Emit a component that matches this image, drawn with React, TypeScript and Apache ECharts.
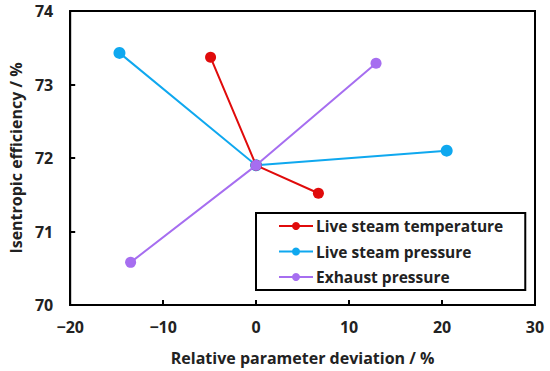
import React, { useEffect, useRef } from "react";
import * as echarts from "echarts";

const seriesNames = ["Live steam temperature", "Live steam pressure", "Exhaust pressure"];
const tempX = [-4.9, 0, 6.7];
const tempY = [73.37, 71.9, 71.52];
const pressX = [-14.7, 0, 20.5];
const pressY = [73.43, 71.9, 72.1];
const exhaustX = [-13.5, 0, 12.9];
const exhaustY = [70.58, 71.9, 73.29];
const colors = ["#e00b0b", "#0fa8ef", "#a66ef0"];

const FONT = "'Open Sans', sans-serif";

function pairs(xs: number[], ys: number[]) {
  return xs.map((x, i) => [x, ys[i]]);
}

export default function App() {
  const ref = useRef<HTMLDivElement>(null);
  useEffect(() => {
    const chart = echarts.init(ref.current!, null, { renderer: "svg" });
    const data = [pairs(tempX, tempY), pairs(pressX, pressY), pairs(exhaustX, exhaustY)];
    const textBase = { fontFamily: FONT, fontWeight: "bold" as const, color: "#222" };
    chart.setOption({
      animation: false,
      backgroundColor: "#fff",
      grid: { left: 69, right: 15, top: 11, bottom: 66, show: true, borderColor: "#000", borderWidth: 2 },
      xAxis: {
        type: "value",
        min: -20,
        max: 30,
        interval: 10,
        name: "Relative parameter deviation / %",
        nameLocation: "middle",
        nameGap: 45,
        nameTextStyle: { ...textBase, fontSize: 16 },
        axisLine: { show: true, onZero: false, lineStyle: { color: "#000", width: 2 } },
        axisTick: { show: true, inside: true, length: 5, lineStyle: { color: "#000", width: 2 } },
        splitLine: { show: false },
        axisLabel: {
          ...textBase,
          fontSize: 16,
          margin: 14,
          formatter: (v: number) => String(v).replace("-", "\u2212"),
        },
      },
      yAxis: {
        type: "value",
        min: 70,
        max: 74,
        interval: 1,
        name: "Isentropic efficiency / %",
        nameLocation: "middle",
        nameGap: 37,
        nameTextStyle: { ...textBase, fontSize: 16 },
        axisLine: { show: true, onZero: false, lineStyle: { color: "#000", width: 2 } },
        axisTick: { show: true, inside: true, length: 5, lineStyle: { color: "#000", width: 2 } },
        splitLine: { show: false },
        axisLabel: { ...textBase, fontSize: 16, margin: 17 },
      },
      legend: {
        orient: "vertical",
        left: 256,
        top: 213,
        padding: [5, 22, 5, 22],
        itemWidth: 34,
        itemHeight: 10,
        itemGap: 9.5,
        borderColor: "#000",
        borderWidth: 2,
        backgroundColor: "#fff",
        textStyle: { ...textBase, fontSize: 15.5, lineHeight: 16, padding: [0, 0, 0, -2] },
        data: seriesNames,
      },
      series: seriesNames.map((name, i) => ({
        name,
        type: "line",
        data: data[i],
        color: colors[i],
        symbol: "circle",
        symbolSize: i === 1 ? 12 : 11,
        lineStyle: { width: 2, color: colors[i] },
        itemStyle: { color: colors[i] },
        z: i === 2 ? 4 : 3 - i,
      })),
    });
    return () => chart.dispose();
  }, []);
  return <div ref={ref} style={{ width: 550, height: 371, position: "absolute", left: 0, top: 0 }} />;
}
